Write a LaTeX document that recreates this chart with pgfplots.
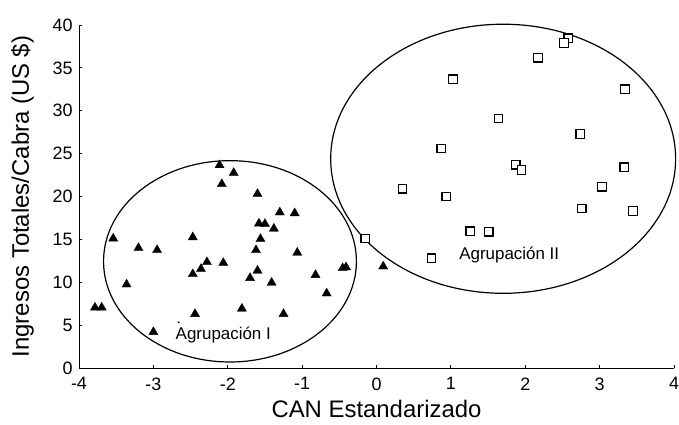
\documentclass[border=0pt]{standalone}
\usepackage{fontspec}
\setmainfont{Liberation Sans}
\usepackage{pgfplots}
\pgfplotsset{compat=1.18}

\begin{document}
\begin{tikzpicture}
  \begin{axis}[
      scale only axis, width=595bp, height=343bp,
      xmin=-4, xmax=4, ymin=0, ymax=40,
      axis lines=left,
      axis line style={-, line width=0.9bp},
      xtick={-4,-3,...,4}, ytick={0,5,...,40},
      tick align=inside, major tick length=3bp,
      tick style={line width=0.8bp, black},
      /pgf/number format/assume math mode=true,
      xticklabel style={font=\fontsize{18}{20}\selectfont, yshift=-6bp},
      yticklabel style={font=\fontsize{18}{20}\selectfont, xshift=-3bp},
      xlabel={CAN Estandarizado},
      ylabel={Ingresos Totales/Cabra (US \$)},
      xlabel style={font=\fontsize{24}{28}\selectfont,
        at={(axis description cs:0.5,-0.1195)}, anchor=center},
      ylabel style={font=\fontsize{24}{28}\selectfont,
        at={(axis description cs:-0.095,0.5)}, anchor=center},
      clip=false,
    ]
    % clusters
    \draw[line width=1.2bp] (axis cs:-1.97,12.44) ellipse [x radius=1.70, y radius=11.74];
    \draw[line width=1.2bp] (axis cs:1.703,24.40) ellipse [x radius=2.319, y radius=15.69];

    % Agrupacion I
    \addplot[only marks, mark=triangle*, mark size=5.3bp,
      mark options={fill=black, draw=black, line width=0.3bp}]
    coordinates {
      (-3.785,7.05) (-3.695,7.05) (-3.54,15.1) (-3.36,9.75) (-3.20,14.0)
      (-2.95,13.75) (-3.0,4.2) (-2.47,15.25) (-2.47,10.95) (-2.36,11.55)
      (-2.28,12.35) (-2.44,6.3) (-2.66,4.8) (-2.11,23.65) (-2.08,21.45)
      (-1.92,22.75) (-2.06,12.25) (-1.81,6.92) (-1.60,20.3) (-1.58,16.85)
      (-1.50,16.8) (-1.38,16.25) (-1.56,15.05) (-1.62,13.75) (-1.60,11.35)
      (-1.70,10.5) (-1.41,9.95) (-1.30,18.15) (-1.10,18.05) (-1.065,13.45)
      (-1.25,6.3) (-0.82,10.85) (-0.67,8.7) (-0.455,11.65) (-0.41,11.75)
      (0.09,11.85)
    };

    % Agrupacion II
    \addplot[only marks, mark=square*, mark size=4.3bp,
      mark options={fill=white, draw=black, line width=1.3bp}]
    coordinates {
      (2.58,38.45) (2.52,37.9) (2.17,36.2) (1.03,33.65) (3.34,32.5)
      (1.64,29.1) (2.74,27.3) (0.87,25.6) (1.87,23.7) (1.95,23.1)
      (3.33,23.4) (0.35,20.9) (0.94,20.0) (3.03,21.15) (2.76,18.6)
      (3.45,18.3) (1.26,15.95) (1.51,15.9) (-0.15,15.1) (0.74,12.8)
    };

    \coordinate (labI) at (axis cs:-2.06,3.85);
    \coordinate (labII) at (axis cs:1.785,13.18);
  \end{axis}
  % labels drawn after the axis so that they sit on top of the marks
  \node[fill=white, inner sep=4bp, font=\fontsize{17}{19}\selectfont]
    at (labI) {Agrupación I};
  \node[fill=white, inner sep=1.5bp, font=\fontsize{17}{19}\selectfont]
    at (labII) {Agrupación II};
  \pgfresetboundingbox
  \path ([xshift=-79bp,yshift=-57bp]current axis.south west)
    rectangle ([xshift=5bp,yshift=25bp]current axis.north east);
\end{tikzpicture}
\end{document}
